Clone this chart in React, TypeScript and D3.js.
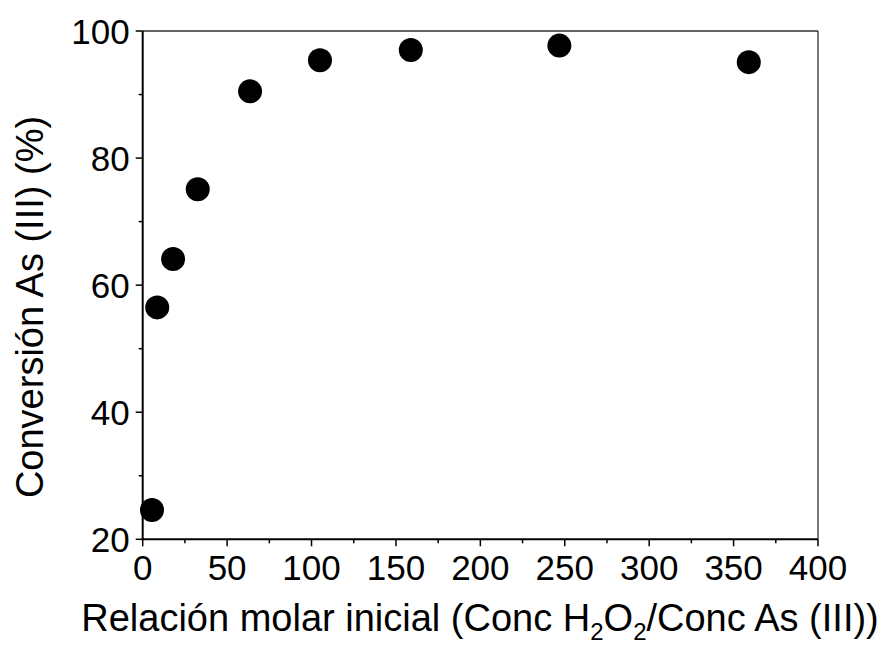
import React from "react";
import * as d3 from "d3";

const molarRatio = [5.5, 8.6, 18, 32.6, 63.6, 105, 158.8, 246.8, 359];
const conversion = [24.6, 56.5, 64.1, 75.1, 90.5, 95.4, 97.0, 97.7, 95.1];
const xTicks = [0, 50, 100, 150, 200, 250, 300, 350, 400];
const xMinor = [25, 75, 125, 175, 225, 275, 325, 375];
const yTicks = [20, 40, 60, 80, 100];
const yMinor = [30, 50, 70, 90];

const W = 884;
const H = 646;
const L = 142.7, R = 818, T = 31, B = 539.3;

export default function App() {
  const x = d3.scaleLinear().domain([0, 400]).range([L, R]);
  const y = d3.scaleLinear().domain([20, 100]).range([B, T]);
  const font = "'Liberation Sans', Arial, Helvetica, sans-serif";
  return (
    <svg width={W} height={H} style={{ position: "absolute", left: 0, top: 0, background: "#fff" }}>
      <line x1={L} x2={R} y1={T} y2={T} stroke="#333" strokeWidth={1.3} />
      <line x1={R} x2={R} y1={T} y2={B} stroke="#333" strokeWidth={1.3} />
      <line x1={L} x2={L} y1={T} y2={B} stroke="#000" strokeWidth={2} />
      <line x1={L - 1} x2={R} y1={B} y2={B} stroke="#000" strokeWidth={2} />
      {xTicks.map((t) => (
        <g key={"xt" + t}>
          <line x1={x(t)} x2={x(t)} y1={B} y2={B + 7} stroke="#000" strokeWidth={1.5} />
          <text x={x(t)} y={580} textAnchor="middle" fontSize={35} fontFamily={font} fill="#000">{t}</text>
        </g>
      ))}
      {xMinor.map((t) => (
        <line key={"xm" + t} x1={x(t)} x2={x(t)} y1={B} y2={B + 4} stroke="#000" strokeWidth={1.5} />
      ))}
      {yTicks.map((t) => (
        <g key={"yt" + t}>
          <line x1={L - 7} x2={L} y1={y(t)} y2={y(t)} stroke="#000" strokeWidth={1.5} />
          <text x={L - 13} y={y(t) + 12.5} textAnchor="end" fontSize={35} fontFamily={font} fill="#000">{t}</text>
        </g>
      ))}
      {yMinor.map((t) => (
        <line key={"ym" + t} x1={L - 4} x2={L} y1={y(t)} y2={y(t)} stroke="#000" strokeWidth={1.5} />
      ))}
      {molarRatio.map((v, i) => (
        <circle key={"p" + i} cx={x(v)} cy={y(conversion[i])} r={12} fill="#000" />
      ))}
      <text
        transform={`translate(43,307) rotate(-90)`}
        textAnchor="middle"
        fontSize={38}
        fontFamily={font}
        fill="#000"
      >
        Conversión As (III) (%)
      </text>
      <text x={480} y={631} textAnchor="middle" fontSize={38} fontFamily={font} fill="#000">
        Relación molar inicial (Conc H
        <tspan fontSize={24} dy={9}>2</tspan>
        <tspan dy={-9}>O</tspan>
        <tspan fontSize={24} dy={9}>2</tspan>
        <tspan dy={-9}>/Conc As (III))</tspan>
      </text>
    </svg>
  );
}
